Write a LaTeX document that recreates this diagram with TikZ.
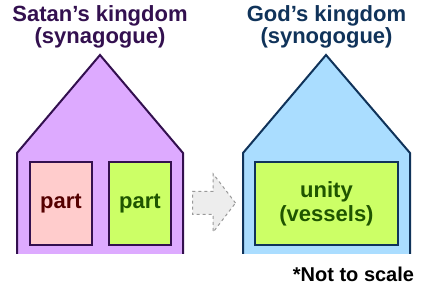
\documentclass[tikz,border=0pt]{standalone}
\usepackage{fontspec}
\setmainfont{Liberation Sans}
\usepackage{tikz}
\usetikzlibrary{shapes.arrows, positioning}
\definecolor{satanfill}{HTML}{DDAAFF}
\definecolor{satanline}{HTML}{33104F}
\definecolor{godfill}{HTML}{AADDFF}
\definecolor{godline}{HTML}{10335A}
\definecolor{partpink}{HTML}{FFCCCC}
\definecolor{partred}{HTML}{550000}
\definecolor{partlime}{HTML}{CCFF66}
\definecolor{partgreen}{HTML}{1F5500}
\tikzset{
  % house body
  house/.style={draw=#1, line width=2pt, line join=miter},
  % boxes inside the houses
  partbox/.style={
    rectangle, draw=#1, line width=2pt, inner sep=0pt,
    minimum height=83pt, align=center,
    font=\fontsize{22}{24}\selectfont\bfseries,
  },
  % titles over the houses
  kingtitle/.style={
    font=\fontsize{22}{20}\selectfont\bfseries, text=#1,
    align=center, inner sep=0pt,
  },
}

\begin{document}
\begin{tikzpicture}[x=1pt, y=-1pt]

  \useasboundingbox (0,0) rectangle (432,288);

  % Houses
  \filldraw[house=satanline, fill=satanfill]
    (17,254) -- (17,153) -- (100,55) -- (183,153) -- (183,254);
  \filldraw[house=godline, fill=godfill]
    (243,254) -- (243,153) -- (326,55) -- (410,153) -- (410,254);

  % Titles
  \node[kingtitle=satanline] (satan) at (100,27) {Satan’s kingdom\\(synagogue)};
  \node[kingtitle=godline] (god) at (326.5,27) {God’s kingdom\\(synogogue)};

  % Parts
  \node[partbox=satanline, fill=partpink, text=partred, minimum width=62pt]
    (part1) at (61,203.5) {part};
  \node[partbox=satanline, fill=partlime, text=partgreen, minimum width=62pt]
    (part2) at (140,203.5) {part};
  \node[partbox=godline, fill=partlime, text=partgreen, minimum width=143pt]
    (unity) at (326.5,203.5) {unity\\(vessels)};

  % Arrow
  \coordinate (arrtail) at (192,203);
  \node[single arrow, draw=black!40, fill=black!7, dashed, line width=1pt,
        inner xsep=0pt, inner ysep=11pt, minimum height=43pt,
        single arrow head extend=17.5pt, single arrow tip angle=105,
        anchor=tail] (arrow) at (arrtail) {};

  % Note
  \node[font=\fontsize{20}{22}\selectfont\bfseries, anchor=base, inner sep=0pt]
    (note) at (353.5,282) {*Not to scale};

\end{tikzpicture}
\end{document}
